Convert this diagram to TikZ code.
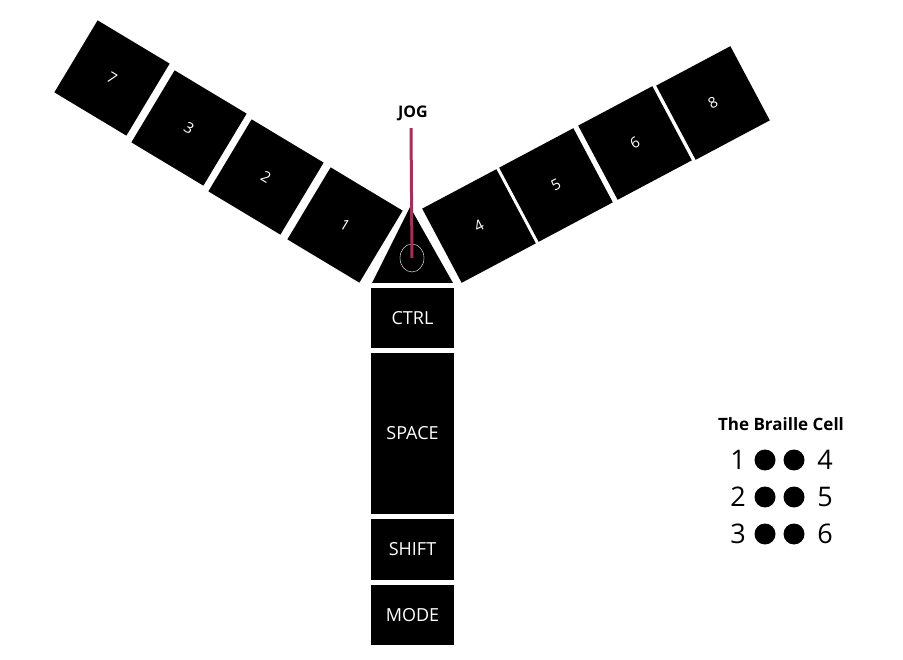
\documentclass[tikz,border=0pt]{standalone}
\usepackage{fontspec}
\usetikzlibrary{shapes.geometric}
\setmainfont{Open Sans}
\begin{document}
\begin{tikzpicture}[x=1pt,y=-1pt,
  key/.style={fill=black,draw=none,minimum size=84pt,inner sep=0pt,text=white,font=\fontsize{15}{15}\selectfont},
  bkey/.style={fill=black,draw=none,minimum width=83pt,inner sep=0pt,text=white,font=\fontsize{18}{18}\selectfont},
  dot/.style={circle,fill=black,minimum size=21pt,inner sep=0pt},
  dig/.style={font=\fontsize{27}{27}\selectfont,inner sep=0pt}]
\useasboundingbox (0,0) rectangle (903,660);
\fill[white] (0,0) rectangle (903,660);
% left arm
\node[key,rotate=-31] (k1) at (345,225) {1};
\node[key,rotate=-31] (k2) at (266,177) {2};
\node[key,rotate=-31] (k3) at (189,128) {3};
\node[key,rotate=-31] (k7) at (112,78) {7};
% right arm
\node[key,rotate=28] (k4) at (479,226) {4};
\node[key,rotate=28] (k5) at (556,185) {5};
\node[key,rotate=28] (k6) at (635,143) {6};
\node[key,rotate=28] (k8) at (713,103) {8};
% triangle
\coordinate (ta) at (410,207);
\coordinate (tl) at (372,283);
\coordinate (tr) at (453,283);
\fill[black] (ta) -- (tr) -- (tl) -- cycle;
\node[draw=white,thin,ellipse,minimum width=24pt,minimum height=28pt,inner sep=0pt] (jc) at (412,258) {};
\node[font=\bfseries\fontsize{16}{16}\selectfont] (jog) at (413,113) {JOG};
\draw[line width=3pt,draw={rgb,255:red,160;green,50;blue,90}] (jog.south) ++(-2,4) coordinate (js) -- (jc.center);
% bottom keys
\node[bkey,minimum height=60pt] (ctrl) at (412.5,318) {CTRL};
\node[bkey,minimum height=161pt] (space) at (412.5,433.5) {SPACE};
\node[bkey,minimum height=61pt] (shift) at (412.5,549.5) {SHIFT};
\node[bkey,minimum height=60pt] (mode) at (412.5,615) {MODE};
% braille cell
\node[font=\bfseries\fontsize{17}{17}\selectfont] (title) at (781,424) {The Braille Cell};
\foreach \r/\a/\b [count=\i] in {460/1/4,497/2/5,534/3/6}{
  \node[dig] (l\i) at (738,\r) {\a};
  \node[dot] (d\i a) at (765,\r) {};
  \node[dot] (d\i b) at (794,\r) {};
  \node[dig] (r\i) at (825,\r) {\b};
}
\end{tikzpicture}
\end{document}
